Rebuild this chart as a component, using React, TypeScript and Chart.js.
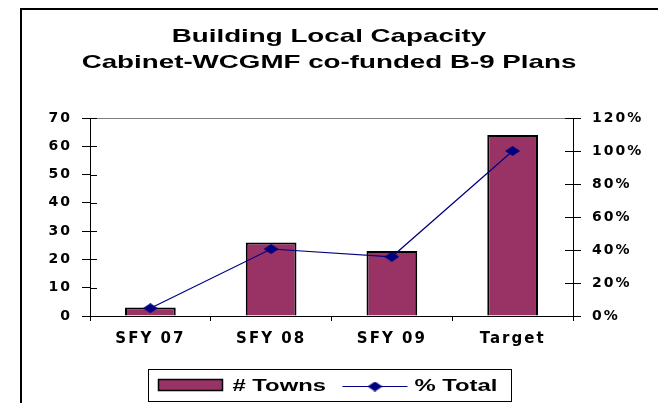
import React, { useEffect, useRef } from 'react';
import { Chart, registerables } from 'chart.js';

Chart.register(...registerables);

// ---- data ----
const categories = ['SFY 07', 'SFY 08', 'SFY 09', 'Target'];
const towns = [3, 26, 23, 64];
const pctTotal = [4.7, 40.6, 35.9, 100];
const titleLines = ['Building Local Capacity', 'Cabinet-WCGMF co-funded B-9 Plans'];
const barLabel = '# Towns';
const lineLabel = '% Total';
const leftAxis = { min: 0, max: 70, step: 10 };
const rightAxis = { min: 0, max: 120, step: 20 };

// ---- style ----
const BAR_COLOR = '#993366';
const LINE_COLOR = '#000080';
const SX = 1.46;
const TICK_FONT = { family: 'DejaVu Sans', weight: 'bold' as const, size: 14 };
const XTICK_FONT = { family: 'DejaVu Sans', weight: 'bold' as const, size: 15 };

function makeDiamond(w: number, h: number, color: string) {
  const c = document.createElement('canvas');
  c.width = w;
  c.height = h;
  const g = c.getContext('2d')!;
  g.fillStyle = color;
  g.beginPath();
  g.moveTo(w / 2, 0);
  g.lineTo(w, h / 2);
  g.lineTo(w / 2, h);
  g.lineTo(0, h / 2);
  g.closePath();
  g.fill();
  return c;
}

function stretchedText(ctx: CanvasRenderingContext2D, text: string, x: number, y: number, font: string, align: 'left' | 'center', sx: number) {
  ctx.save();
  (ctx as any).letterSpacing = '0px';
  ctx.font = font;
  ctx.textAlign = 'left';
  ctx.textBaseline = 'alphabetic';
  const w = ctx.measureText(text).width * sx;
  const x0 = align === 'center' ? x - w / 2 : x;
  ctx.translate(x0, y);
  ctx.scale(sx, 1);
  ctx.fillStyle = '#000';
  ctx.fillText(text, 0, 0);
  ctx.restore();
  return w;
}

export default function App() {
  const ref = useRef<HTMLCanvasElement>(null);

  useEffect(() => {
    if (!ref.current) return;
    const diamond = makeDiamond(15, 10, LINE_COLOR);

    const decor = {
      id: 'decor',
      beforeDraw(chart: any) {
        const ctx = chart.ctx as CanvasRenderingContext2D;
        ctx.save();
        ctx.fillStyle = '#000';
        ctx.fillRect(20, 8, chart.width - 20, 2);
        ctx.fillRect(20, 8, 2, chart.height - 8);
        ctx.restore();
        (ctx as any).letterSpacing = '2px';
      },
      beforeDatasetsDraw(chart: any) {
        const ctx = chart.ctx as CanvasRenderingContext2D;
        const a = chart.chartArea;
        ctx.save();
        ctx.strokeStyle = '#808080';
        ctx.lineWidth = 1;
        ctx.beginPath();
        ctx.moveTo(a.left, Math.round(a.top) + 0.5);
        ctx.lineTo(a.right, Math.round(a.top) + 0.5);
        ctx.stroke();
        // inner halves of cross tick marks
        ctx.strokeStyle = '#000';
        const y = chart.scales.y;
        const y1 = chart.scales.y1;
        ctx.beginPath();
        y.ticks.forEach((t: any, i: number) => {
          const py = Math.round(y.getPixelForTick(i)) + 0.5;
          ctx.moveTo(a.left, py);
          ctx.lineTo(a.left + 7, py);
        });
        y1.ticks.forEach((t: any, i: number) => {
          const py = Math.round(y1.getPixelForTick(i)) + 0.5;
          ctx.moveTo(a.right - 8, py);
          ctx.lineTo(a.right, py);
        });
        ctx.stroke();
        ctx.restore();
      },
      afterDraw(chart: any) {
        const ctx = chart.ctx as CanvasRenderingContext2D;
        const cx = chart.width / 2;
        // title
        stretchedText(ctx, titleLines[0], cx, 42, 'bold 19px "Liberation Sans", Arial, sans-serif', 'center', SX);
        stretchedText(ctx, titleLines[1], cx, 68, 'bold 19px "Liberation Sans", Arial, sans-serif', 'center', SX);
        // legend
        const bw = 363, bh = 32;
        const lx = Math.round(cx - bw / 2) + 0.5;
        const ly = 369.5;
        ctx.save();
        (ctx as any).letterSpacing = '0px';
        ctx.strokeStyle = '#000';
        ctx.lineWidth = 1;
        ctx.strokeRect(lx, ly, bw, bh);
        ctx.fillStyle = BAR_COLOR;
        ctx.fillRect(lx + 10, ly + 10, 64, 11);
        ctx.lineWidth = 1.5;
        ctx.strokeRect(lx + 10, ly + 10, 64, 11);
        ctx.strokeStyle = LINE_COLOR;
        ctx.lineWidth = 1.2;
        ctx.beginPath();
        ctx.moveTo(lx + 194, ly + 17);
        ctx.lineTo(lx + 259, ly + 17);
        ctx.stroke();
        ctx.drawImage(diamond, lx + 226.5 - diamond.width / 2, ly + 17 - diamond.height / 2);
        ctx.restore();
        const lf = 'bold 17px "Liberation Sans", Arial, sans-serif';
        stretchedText(ctx, barLabel, lx + 84, ly + 21, lf, 'left', 1.4);
        stretchedText(ctx, lineLabel, lx + 266, ly + 21, lf, 'left', 1.4);
      },
    };

    const chart = new Chart(ref.current, {
      type: 'bar',
      data: {
        labels: categories,
        datasets: [
          {
            type: 'line' as const,
            label: lineLabel,
            data: pctTotal,
            yAxisID: 'y1',
            borderColor: LINE_COLOR,
            backgroundColor: LINE_COLOR,
            borderWidth: 1.2,
            pointStyle: diamond as any,
            pointRadius: 6,
            order: 1,
          },
          {
            type: 'bar' as const,
            label: barLabel,
            data: towns,
            yAxisID: 'y',
            backgroundColor: BAR_COLOR,
            borderColor: '#000',
            borderWidth: 2,
            barPercentage: 0.42,
            categoryPercentage: 1,
            order: 2,
          },
        ],
      } as any,
      options: {
        animation: false,
        responsive: true,
        maintainAspectRatio: false,
        layout: { padding: { top: 118, left: 0, right: 0, bottom: 0 } },
        plugins: {
          legend: { display: false },
          title: { display: false },
          tooltip: { enabled: false },
        },
        scales: {
          x: {
            offset: true,
            grid: { display: true, drawOnChartArea: false, drawTicks: true, tickLength: 5, color: '#000', offset: true },
            border: { display: true, color: '#000', width: 1 },
            ticks: { font: XTICK_FONT, color: '#000', padding: 9, maxRotation: 0, autoSkip: false },
            afterFit: (s: any) => { s.height = 87; },
          },
          y: {
            position: 'left',
            min: leftAxis.min,
            max: leftAxis.max,
            ticks: { stepSize: leftAxis.step, font: TICK_FONT, color: '#000', padding: 10 },
            grid: { drawOnChartArea: false, drawTicks: true, tickLength: 8, color: '#000' },
            border: { display: true, color: '#000', width: 1 },
            afterFit: (s: any) => { s.width = 90; },
          },
          y1: {
            position: 'right',
            min: rightAxis.min,
            max: rightAxis.max,
            ticks: { stepSize: rightAxis.step, font: TICK_FONT, color: '#000', padding: 11, callback: (v: any) => v + '%' },
            grid: { drawOnChartArea: false, drawTicks: true, tickLength: 8, color: '#000' },
            border: { display: true, color: '#000', width: 1 },
            afterFit: (s: any) => { s.width = 85; },
          },
        } as any,
      },
      plugins: [decor],
    });
    return () => chart.destroy();
  }, []);

  return (
    <div style={{ position: 'fixed', left: 0, top: 0, width: 658, height: 403, background: '#fff' }}>
      <canvas ref={ref} />
    </div>
  );
}
